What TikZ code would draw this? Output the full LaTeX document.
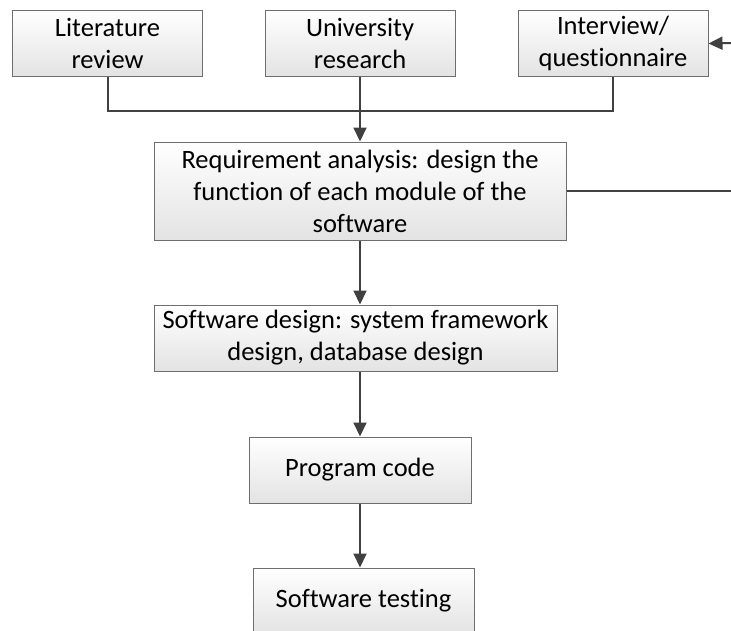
\documentclass[tikz,border=0pt]{standalone}
\usepackage{fontspec}
\setmainfont[Ligatures={NoCommon}]{Carlito}
\usetikzlibrary{arrows.meta}

\definecolor{linkgray}{HTML}{404040}
\definecolor{framegray}{HTML}{6E6E6E}
\definecolor{shadegray}{HTML}{E3E3E3}

\tikzset{
  stage/.style={draw=framegray, line width=1pt, top color=white, bottom color=shadegray,
    inner sep=0pt, align=center, text=black,
    font=\fontsize{26.5}{32}\selectfont},
  link/.style={draw=linkgray, line width=2pt},
  flow/.style={link, -{Triangle[length=14pt,width=13pt]}}
}

\begin{document}
\begin{tikzpicture}[x=1pt, y=-1pt]
  \useasboundingbox (0,0) rectangle (731,630);
  \clip (0,0) rectangle (731,630);

  % information sources
  \node[stage, minimum width=190pt, minimum height=66pt] (lit)  at (107.5,43.5) {Literature\\review};
  \node[stage, minimum width=190pt, minimum height=66pt] (uni)  at (360,43.5)   {University\\research};
  \node[stage, minimum width=190pt, minimum height=66pt] (intv) at (613,43.5)   {Interview/\\questionnaire};

  % development stages
  \node[stage, minimum width=412pt, minimum height=98pt] (req)  at (360,191)
    {Requirement analysis: design the\\function of each module of the\\software};
  \node[stage, minimum width=403pt, minimum height=66pt] (swd)  at (355.5,338)
    {Software design: system framework\\design, database design};
  \node[stage, minimum width=222pt, minimum height=66pt] (code) at (360,470) {Program code};
  \node[stage, minimum width=221pt, minimum height=66pt] (test) at (363.5,601) {Software testing};

  % merge of the three sources
  \coordinate (bus) at (360,111);
  \draw[link] (lit.south) |- (bus) -| (intv.south);
  \draw[flow] (uni.south) -- (req.north);

  % feedback loop leaving to the right
  \coordinate (outR) at (731,191);
  \coordinate (inR)  at (731,43);
  \draw[link] (req.east) -- (outR);
  \draw[flow] (inR) -- (intv.east);

  % main sequence
  \draw[flow] (req.south) -- (req.south |- swd.north);
  \draw[flow] (req.south |- swd.south) -- (code.north);
  \draw[flow] (code.south) -- (code.south |- test.north);
\end{tikzpicture}
\end{document}
